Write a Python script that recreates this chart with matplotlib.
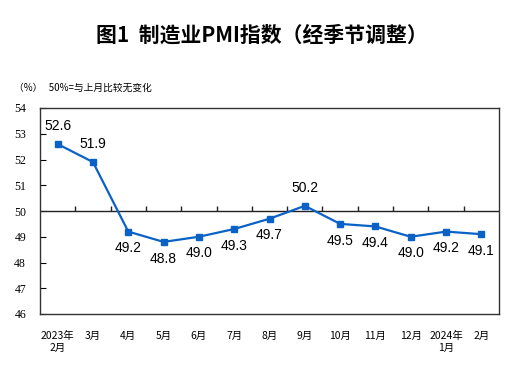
import matplotlib
matplotlib.use("Agg")
import matplotlib.pyplot as plt
import numpy as np

plt.rcParams['font.family'] = ['Noto Sans CJK SC', 'DejaVu Sans']

categories = ["2023年\n2月", "3月", "4月", "5月", "6月", "7月", "8月", "9月",
              "10月", "11月", "12月", "2024年\n1月", "2月"]
pmi = [52.6, 51.9, 49.2, 48.8, 49.0, 49.3, 49.7, 50.2, 49.5, 49.4, 49.0, 49.2, 49.1]
y_ticks = [46, 47, 48, 49, 50, 51, 52, 53, 54]
baseline = 50

fig = plt.figure(figsize=(5.24, 3.73), dpi=100)
ax = fig.add_axes([40/524, 1-314/373, 459/524, 206/373])

x = np.arange(len(categories))
color = "#0A62C6"
ax.plot(x, pmi, color=color, lw=1.6, marker="s", ms=5, zorder=3)

ax.set_xlim(-0.5, len(categories)-0.5)
ax.set_ylim(y_ticks[0], y_ticks[-1])
ax.set_yticks(y_ticks)
ax.set_yticklabels([str(t) for t in y_ticks], fontsize=8.5, family='Liberation Serif')
ax.tick_params(axis='y', direction='in', length=4, width=0.8, pad=10)
ax.set_xticks(x)
ax.set_xticklabels(categories, fontsize=7.5, linespacing=1.3)
ax.tick_params(axis='x', length=0, pad=12)
for s in ax.spines.values():
    s.set_linewidth(1.0)
    s.set_color("#333333")

ax.axhline(baseline, color="#222222", lw=1.0, zorder=2)
ax.vlines(x[:-1] + 0.5, baseline, baseline + 0.19, color="#222222", lw=1.0, zorder=2)

for xi, v in zip(x, pmi):
    if v >= baseline:
        ax.annotate(f"{v:.1f}", (xi, v), xytext=(0, 8), textcoords="offset points",
                    ha="center", va="bottom", fontsize=10, family="Liberation Sans")
    else:
        ax.annotate(f"{v:.1f}", (xi, v), xytext=(0, -7), textcoords="offset points",
                    ha="center", va="top", fontsize=10, family="Liberation Sans")

fig.text(262/524, 1-35/373, "图1  制造业PMI指数（经季节调整）", ha="center", va="center",
         fontsize=15, fontweight="bold")
fig.text(14/524, 1-88/373, "（%）   50%=与上月比较无变化", ha="left", va="center", fontsize=7)

fig.savefig("out.png", dpi=100)
